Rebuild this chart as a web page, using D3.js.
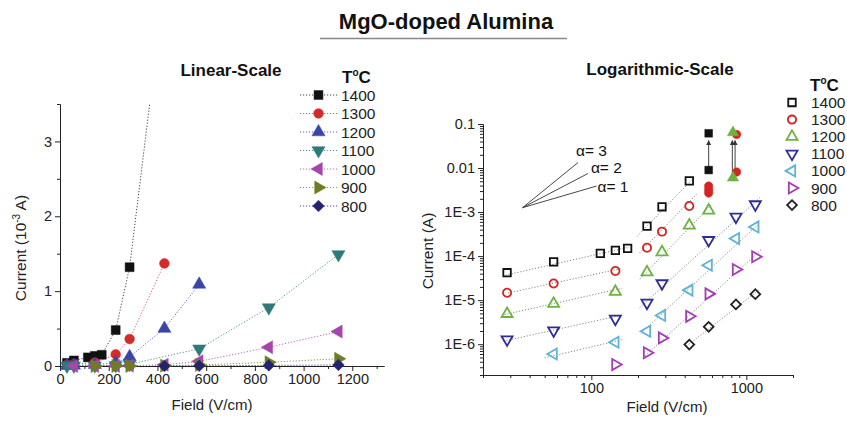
<!DOCTYPE html>
<html>
<head>
<meta charset="utf-8">
<script src="https://cdn.jsdelivr.net/npm/d3@7"></script>
<style>
  body { margin: 0; background: #fff; }
  svg { font-family: "Liberation Sans", Arial, sans-serif; }
  .tick text { font-size: 14.5px; fill: #222; }
  .domain, .tick line { stroke: #222; }
</style>
</head>
<body>
<svg id="chart"></svg>
<script>
const temps = ["1400", "1300", "1200", "1100", "1000", "900", "800"];
const fields = [28.6, 57.1, 114.3, 142.9, 171.4, 228.6, 285.7, 428.6, 571.4, 857.1, 1142.9];

// current in A, aligned with fields (null = no point)
const cur1400 = [4.2e-5, 7.4e-5, 1.15e-4, 1.35e-4, 1.5e-4, 4.8e-4, 1.32e-3, 5.1e-3, null, null, null];
const cur1300 = [1.47e-5, 2.4e-5, null, 4.6e-5, null, 1.55e-4, 3.6e-4, 1.37e-3, null, null, null];
const cur1200 = [4.9e-6, 8.3e-6, null, 1.55e-5, null, 4.3e-5, 1.23e-4, 5.0e-4, 1.09e-3, null, null];
const cur1100 = [1.28e-6, 2.05e-6, null, 3.77e-6, null, 8.7e-6, 2.4e-5, null, 2.3e-4, 7.8e-4, 1.49e-3];
const cur1000 = [null, 6.0e-7, null, 1.11e-6, null, 1.97e-6, 4.5e-6, 1.69e-5, 6.2e-5, 2.5e-4, 4.6e-4];
const cur900 = [null, null, null, 3.45e-7, null, 6.4e-7, 1.39e-6, 4.3e-6, 1.39e-5, 4.98e-5, 9.7e-5];
const cur800 = [null, null, null, null, null, null, null, 9.8e-7, 2.48e-6, 8.0e-6, 1.37e-5];
const currents = [cur1400, cur1300, cur1200, cur1100, cur1000, cur900, cur800];

// breakdown points (solid, log panel only): [temp index, field, current]
const solidPts = [
    [0, 571.4, 9.0e-3], [0, 571.4, 0.0615],
    [1, 571.4, 3.9e-3], [1, 571.4, 3.2e-3], [1, 571.4, 2.7e-3],
    [1, 865, 8.1e-3], [1, 865, 0.058],
    [2, 820, 6.0e-3], [2, 820, 0.064]
];
// arrows: [field, from current, to current]
const arrows = [[571.4, 0.0102, 0.042], [812, 7.4e-3, 0.042], [846, 9.6e-3, 0.042]];

// dotted fit lines on log panel: [field1, current1, field2, current2]
const fitLow = [
    [28, 3.7e-5, 175, 1.6e-4],
    [29, 1.45e-5, 158, 5.3e-5],
    [27.5, 4.7e-6, 158, 1.86e-5],
    [27, 1.17e-6, 158, 4.6e-6],
    [50, 4.9e-7, 158, 1.27e-6]
];
const fitHigh = [
    [197, 2.8e-4, 470, 6.6e-3],
    [205, 1.19e-4, 480, 2.6e-3],
    [205, 3.0e-5, 600, 1.5e-3],
    [205, 6.7e-6, 1220, 2.1e-3],
    [210, 1.8e-6, 1220, 5.7e-4],
    [215, 4.9e-7, 1250, 1.42e-4],
    [410, 9.0e-7, 1220, 1.75e-5]
];

// slope guide lines
const alphaOrigin = [36, 1.26e-3];
const alphaEnds = [[82, 0.0133], [95, 7.5e-3], [108, 3.9e-3]];
const alphaLabels = ["α= 3", "α= 2", "α= 1"];

const logYTicks = [0.1, 0.01, 1e-3, 1e-4, 1e-5, 1e-6];
const logYLabels = ["0.1", "0.01", "1E-3", "1E-4", "1E-5", "1E-6"];
const logXTicks = [100, 1000];

const shapes = ["square", "circle", "up", "down", "left", "right", "diamond"];
const linFill = ["#111", "#d42a2a", "#3a45a8", "#2f7a78", "#a646a8", "#6f7d22", "#23236e"];
const linLine = ["#444", "#e06060", "#5a68c4", "#4f9696", "#c466c4", "#8e9c46", "#45459a"];
const logColor = ["#111", "#d42424", "#6cb33f", "#2e2e96", "#5fb3d6", "#a43cb4", "#222"];

const width = 847, height = 424;
const svg = d3.select("#chart").attr("width", width).attr("height", height);
svg.append("rect").attr("width", width).attr("height", height).attr("fill", "#fff");

const symbolPath = (shape, scale) => {
    let type = d3.symbolTriangle, size = 62, rot = 0;
    if (shape === "square") { type = d3.symbolSquare; size = 66; }
    if (shape === "circle") { type = d3.symbolCircle; size = 62; }
    if (shape === "diamond") { type = d3.symbolSquare; size = 56; rot = 45; }
    if (shape === "down") rot = 180;
    if (shape === "left") rot = -90;
    if (shape === "right") rot = 90;
    return { d: d3.symbol().type(type).size(size * scale)(), rot: rot };
};

const drawSymbol = (g, shape, x, y, scale, fill, stroke, sw) => {
    const s = symbolPath(shape, scale);
    g.append("path")
        .attr("d", s.d)
        .attr("transform", `translate(${x},${y}) rotate(${s.rot})`)
        .attr("fill", fill)
        .attr("stroke", stroke)
        .attr("stroke-width", sw);
};

// ---------- title ----------
svg.append("text").attr("x", 446).attr("y", 29).attr("text-anchor", "middle")
    .attr("font-size", 22).attr("font-weight", "bold").attr("fill", "#111")
    .text("MgO-doped Alumina");
svg.append("line").attr("x1", 320).attr("x2", 567).attr("y1", 38.5).attr("y2", 38.5)
    .attr("stroke", "#888").attr("stroke-width", 1.5);

// ---------- linear panel ----------
const xLin = d3.scaleLinear().domain([0, 1330]).range([60, 384]);
const yLin = d3.scaleLinear().domain([0, 3.5]).range([366, 104]);

svg.append("text").attr("x", 231).attr("y", 76).attr("text-anchor", "middle")
    .attr("font-size", 17).attr("font-weight", "bold").attr("fill", "#111").text("Linear-Scale");

svg.append("g").attr("transform", "translate(0,366)")
    .call(d3.axisBottom(xLin).tickValues(d3.range(100, 1301, 200)).tickSize(3).tickSizeOuter(0).tickFormat(""));
svg.append("g").attr("transform", "translate(0,366)")
    .call(d3.axisBottom(xLin).tickValues(d3.range(0, 1201, 200)).tickSize(5).tickSizeOuter(0).tickPadding(3)
        .tickFormat(d3.format("d")));
svg.append("g").attr("transform", "translate(60,0)")
    .call(d3.axisLeft(yLin).tickValues([0.5, 1.5, 2.5, 3.5]).tickSize(3).tickSizeOuter(0).tickFormat(""));
svg.append("g").attr("transform", "translate(60,0)")
    .call(d3.axisLeft(yLin).tickValues([0, 1, 2, 3]).tickSize(5).tickSizeOuter(0).tickPadding(3)
        .tickFormat(d3.format("d")));

const yl = svg.append("text").attr("transform", "translate(26,248) rotate(-90)")
    .attr("text-anchor", "middle").attr("font-size", 15.5).attr("fill", "#222");
yl.append("tspan").text("Current (10");
yl.append("tspan").attr("font-size", 10).attr("dy", -6).text("-3");
yl.append("tspan").attr("dy", 6).text(" A)");
svg.append("text").attr("x", 212).attr("y", 410).attr("text-anchor", "middle")
    .attr("font-size", 15).attr("fill", "#222").text("Field (V/cm)");

svg.append("clipPath").attr("id", "clipLin").append("rect")
    .attr("x", 60).attr("y", 104).attr("width", 324).attr("height", 262);

const linSeries = currents.map((c) =>
    fields.map((f, i) => [f, c[i]]).filter((p) => p[1] !== null).map((p) => [p[0], p[1] * 1000]));

const linLineGen = d3.line().x((d) => xLin(d[0])).y((d) => yLin(d[1]));
const gLinLines = svg.append("g").attr("clip-path", "url(#clipLin)");
linSeries.forEach((s, k) => {
    gLinLines.append("path").attr("d", linLineGen(s)).attr("fill", "none")
        .attr("stroke", linLine[k]).attr("stroke-width", 1).attr("stroke-dasharray", "1.2,1.8");
});
const gLinPts = svg.append("g");
linSeries.forEach((s, k) => {
    s.filter((p) => p[1] <= 3.5).forEach((p) => {
        drawSymbol(gLinPts, shapes[k], xLin(p[0]), yLin(p[1]), 1.2, linFill[k], linFill[k], 0.5);
    });
});

// linear legend
svg.append("text").attr("x", 342).attr("y", 83).attr("font-size", 17).attr("font-weight", "bold")
    .attr("fill", "#111").html('T<tspan font-size="10" dy="-7">o</tspan><tspan dy="7">C</tspan>');
temps.forEach((t, k) => {
    const y = 95 + k * 18.5;
    svg.append("line").attr("x1", 300).attr("x2", 338).attr("y1", y).attr("y2", y)
        .attr("stroke", linLine[k]).attr("stroke-width", 1).attr("stroke-dasharray", "1.2,1.8");
    drawSymbol(svg, shapes[k], 318.5, y, 1.2, linFill[k], linFill[k], 0.5);
    svg.append("text").attr("x", 341).attr("y", y + 5.5).attr("font-size", 15.5)
        .attr("fill", "#222").text(t);
});

// ---------- log panel ----------
const xLog = d3.scaleLog().domain([20, 2000]).range([483, 793]);
const yLog = d3.scaleLog().domain([2e-7, 0.1]).range([375, 124]);

svg.append("text").attr("x", 660).attr("y", 75).attr("text-anchor", "middle")
    .attr("font-size", 17).attr("font-weight", "bold").attr("fill", "#111").text("Logarithmic-Scale");

const minorX = [];
[10, 100, 1000].forEach((dec) => d3.range(2, 10).forEach((m) => {
    const v = dec * m;
    if (v >= 20 && v <= 2000) minorX.push(v);
}));
const minorY = [];
[1e-7, 1e-6, 1e-5, 1e-4, 1e-3, 1e-2].forEach((dec) => d3.range(2, 10).forEach((m) => {
    const v = dec * m;
    if (v >= 2e-7 && v <= 0.1) minorY.push(v);
}));

svg.append("g").attr("transform", "translate(0,375)")
    .call(d3.axisBottom(xLog).tickValues(minorX).tickSize(3).tickSizeOuter(0).tickFormat(""));
svg.append("g").attr("transform", "translate(0,375)")
    .call(d3.axisBottom(xLog).tickValues(logXTicks).tickSize(5).tickSizeOuter(0).tickPadding(3)
        .tickFormat(d3.format("d")));
svg.append("g").attr("transform", "translate(483,0)")
    .call(d3.axisLeft(yLog).tickValues(minorY).tickSize(3).tickSizeOuter(0).tickFormat(""));
svg.append("g").attr("transform", "translate(483,0)")
    .call(d3.axisLeft(yLog).tickValues(logYTicks).tickSize(5).tickSizeOuter(0).tickPadding(3)
        .tickFormat((d, i) => logYLabels[i]));

svg.append("text").attr("transform", "translate(433,251) rotate(-90)")
    .attr("text-anchor", "middle").attr("font-size", 15.5).attr("fill", "#222").text("Current (A)");
svg.append("text").attr("x", 667).attr("y", 412).attr("text-anchor", "middle")
    .attr("font-size", 15).attr("fill", "#222").text("Field (V/cm)");

// fit lines
const gFit = svg.append("g");
fitLow.concat(fitHigh).forEach((f) => {
    gFit.append("line")
        .attr("x1", xLog(f[0])).attr("y1", yLog(f[1]))
        .attr("x2", xLog(f[2])).attr("y2", yLog(f[3]))
        .attr("stroke", "#888").attr("stroke-width", 1).attr("stroke-dasharray", "1.2,1.8");
});

// alpha guides
alphaEnds.forEach((e, i) => {
    const x2 = xLog(e[0]), y2 = yLog(e[1]);
    svg.append("line")
        .attr("x1", xLog(alphaOrigin[0])).attr("y1", yLog(alphaOrigin[1]))
        .attr("x2", x2).attr("y2", y2)
        .attr("stroke", "#333").attr("stroke-width", 0.9);
    const dy = [-7, -1, 6][i], dx = [-2, 3, 1][i];
    svg.append("text").attr("x", x2 + dx).attr("y", y2 + dy).attr("font-size", 15.5)
        .attr("fill", "#111").text(alphaLabels[i]);
});

// arrows
const defs = svg.append("defs");
defs.append("marker").attr("id", "arrow").attr("viewBox", "0 0 10 10")
    .attr("refX", 9).attr("refY", 5).attr("markerWidth", 5).attr("markerHeight", 6)
    .attr("orient", "auto").append("path").attr("d", "M0,0 L10,5 L0,10 z").attr("fill", "#333");
arrows.forEach((a) => {
    svg.append("line")
        .attr("x1", xLog(a[0])).attr("y1", yLog(a[1]))
        .attr("x2", xLog(a[0])).attr("y2", yLog(a[2]))
        .attr("stroke", "#444").attr("stroke-width", 1).attr("marker-end", "url(#arrow)");
});

// open markers
const gLog = svg.append("g");
currents.forEach((c, k) => {
    fields.forEach((f, i) => {
        if (c[i] === null) return;
        drawSymbol(gLog, shapes[k], xLog(f), yLog(c[i]), 0.85, "none", logColor[k], 1.8);
    });
});
solidPts.forEach((p) => {
    drawSymbol(gLog, shapes[p[0]], xLog(p[1]), yLog(p[2]), 0.9, logColor[p[0]], logColor[p[0]], 0.5);
});

// log legend
svg.append("text").attr("x", 810).attr("y", 91).attr("font-size", 17).attr("font-weight", "bold")
    .attr("fill", "#111").html('T<tspan font-size="10" dy="-7">o</tspan><tspan dy="7">C</tspan>');
temps.forEach((t, k) => {
    const y = 102.5 + k * 17.1;
    drawSymbol(svg, shapes[k], 792, y, 0.85, "none", logColor[k], 1.8);
    svg.append("text").attr("x", 811).attr("y", y + 5.5).attr("font-size", 15.5)
        .attr("fill", "#222").text(t);
});
</script>
</body>
</html>
